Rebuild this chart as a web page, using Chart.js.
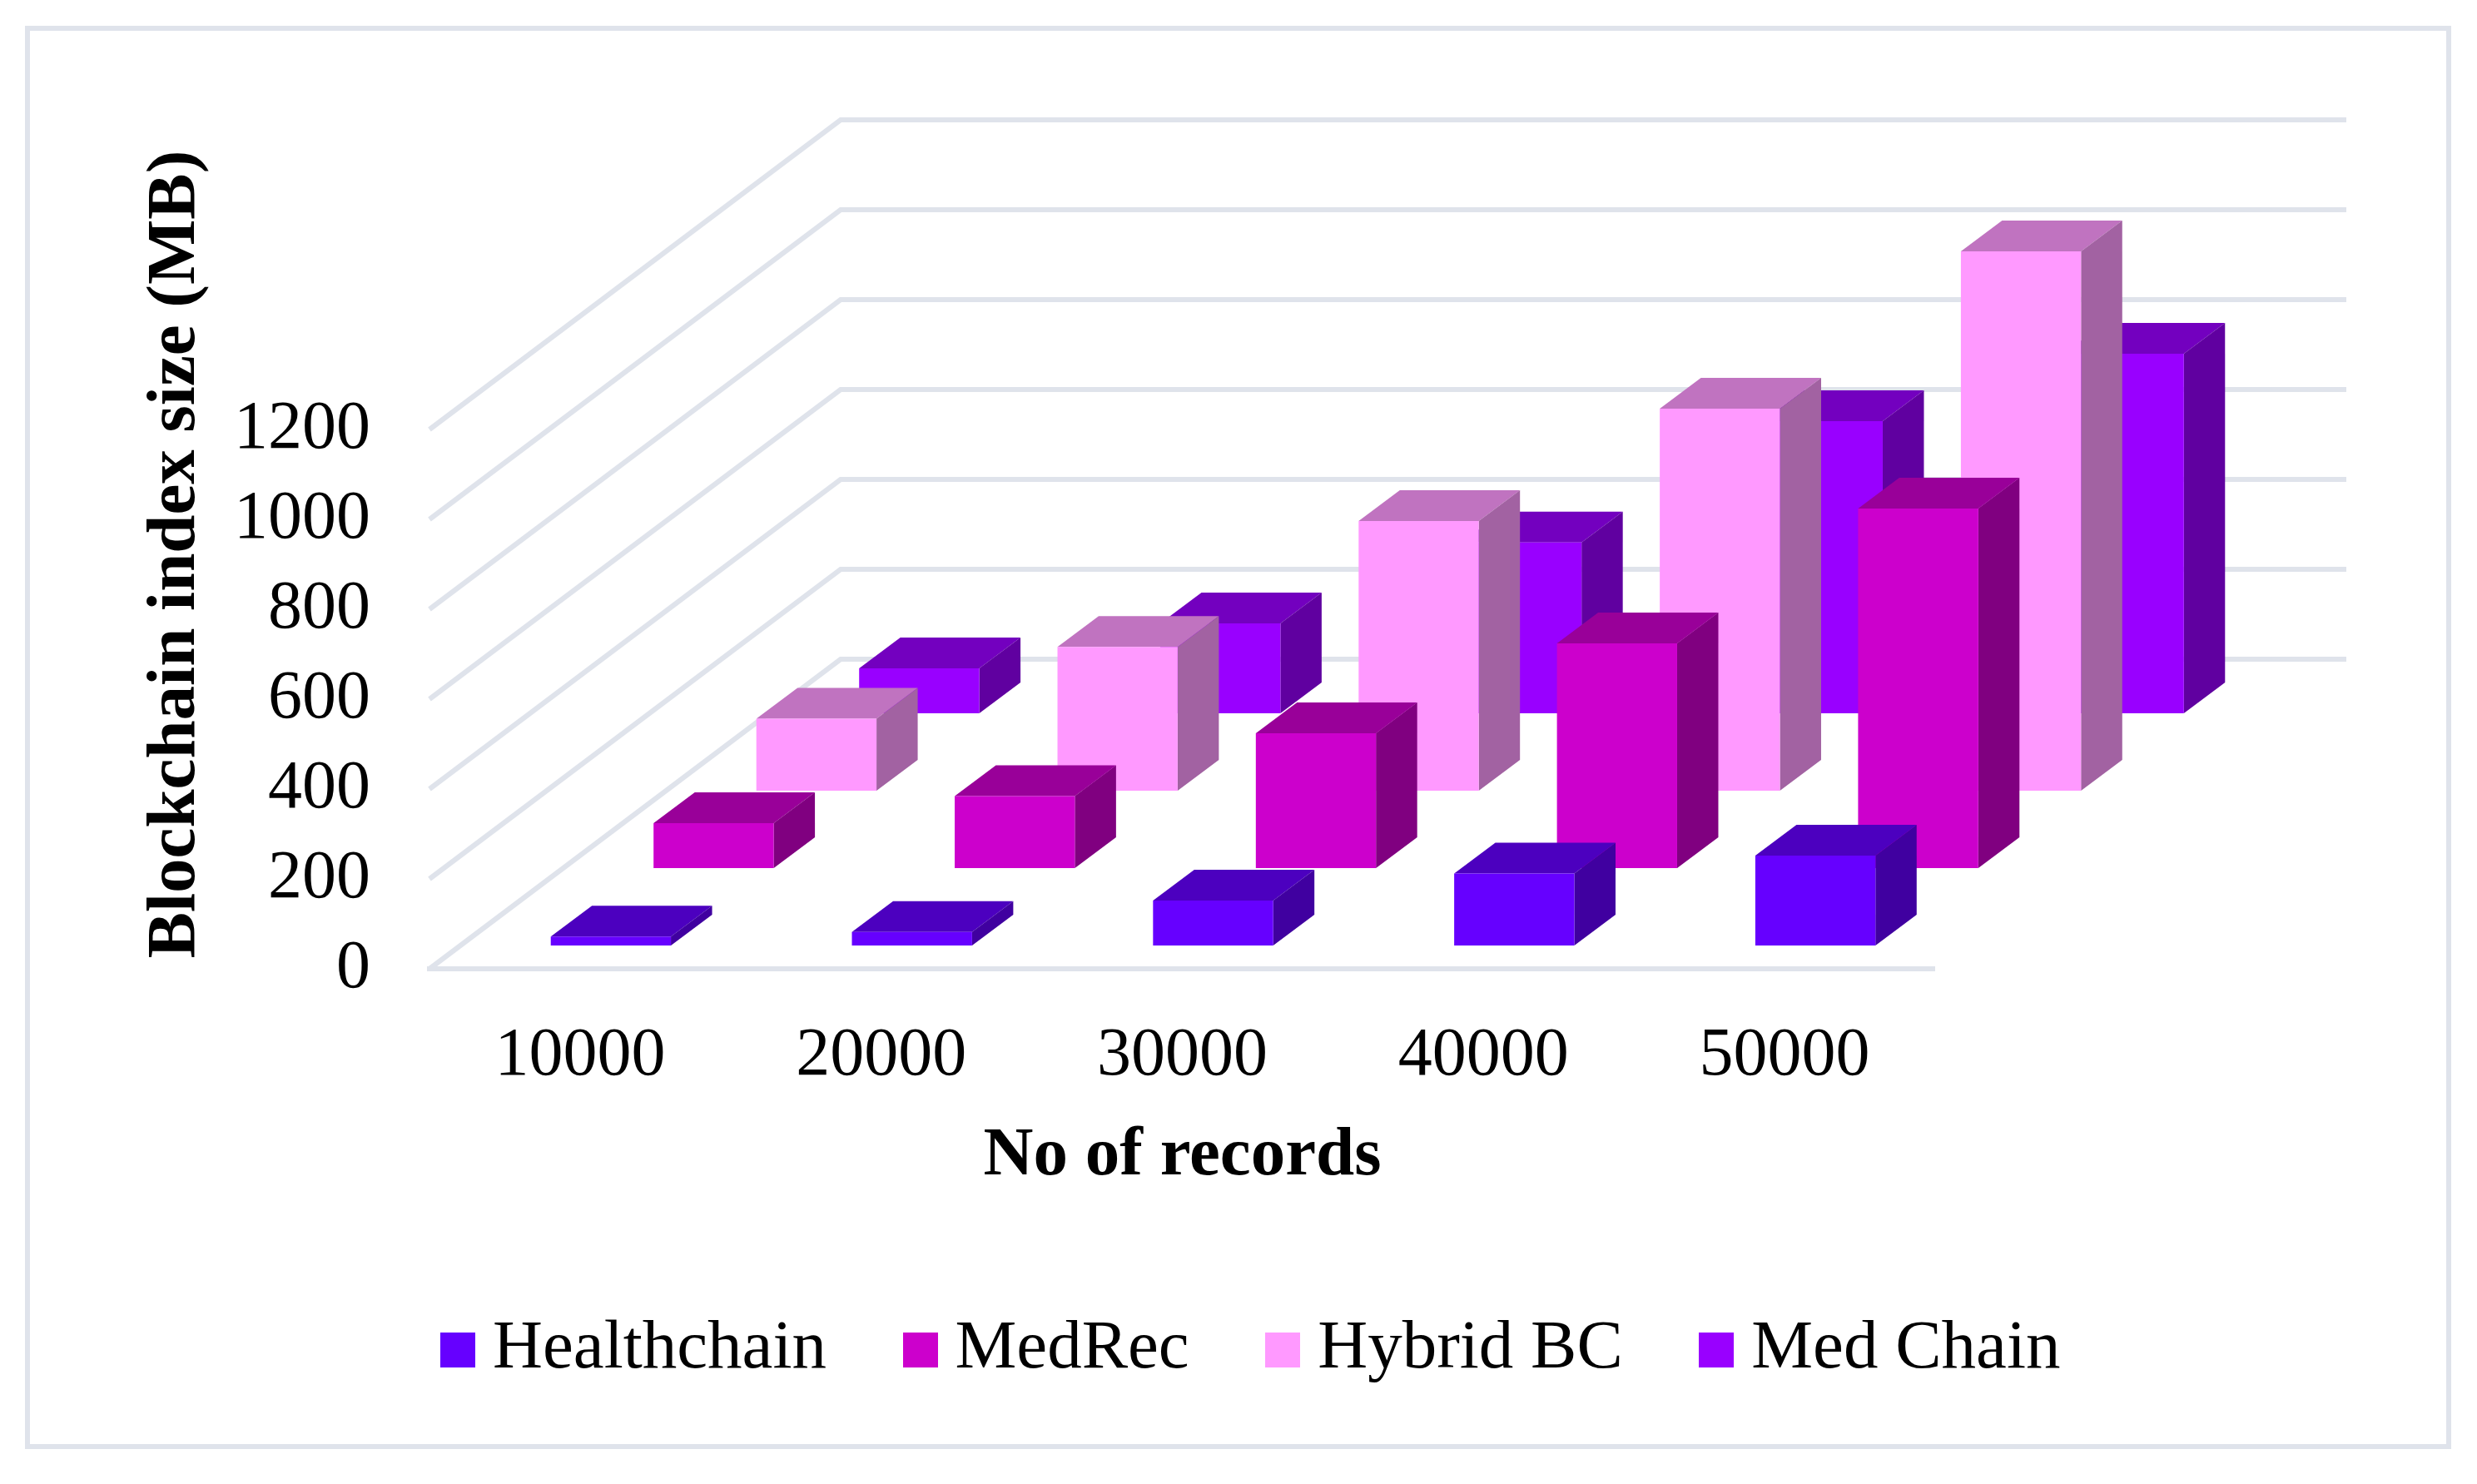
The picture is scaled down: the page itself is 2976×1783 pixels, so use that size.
<!DOCTYPE html>
<html>
<head>
<meta charset="utf-8">
<title>Blockchain index size</title>
<script src="https://cdn.jsdelivr.net/npm/chart.js@4/dist/chart.umd.min.js"></script>
<style>
  html, body { margin: 0; padding: 0; background: #fff; overflow: hidden; }
  canvas { display: block; }
</style>
</head>
<body>
<canvas id="chart" width="2976" height="1783"></canvas>
<script>
const categories = ['10000', '20000', '30000', '40000', '50000'];
const healthchain = [20, 30, 100, 160, 200];
const medRec = [100, 160, 300, 500, 800];
const hybridBC = [160, 320, 600, 850, 1200];
const medChain = [100, 200, 380, 650, 800];
const seriesNames = ['Healthchain', 'MedRec', 'Hybrid BC', 'Med Chain'];
const xTitle = 'No of records';
const yTitle = 'Blockchain index size (MB)';

const frontColors = ['#6600ff', '#cc00cc', '#ff99ff', '#9900ff'];
const topColors = ['#4c00bf', '#990099', '#c073c0', '#7300bf'];
const sideColors = ['#4000a0', '#800080', '#a262a2', '#6000a0'];

const gridColor = '#dfe3eb';
const fontFamily = '"Liberation Serif", "Times New Roman", serif';

// how far the floor runs back, and how deep one bar is
const wallDx = 494, wallDy = 372;
const slotDx = wallDx / 4, slotDy = wallDy / 4;
const barDx = 49.5, barDy = 37;

function legendSwatch(color) {
  const c = document.createElement('canvas');
  c.width = 42;
  c.height = 42;
  const g = c.getContext('2d');
  g.fillStyle = color;
  g.fillRect(0, 0, 42, 42);
  return c;
}

function line(ctx, points) {
  ctx.beginPath();
  points.forEach((p, i) => i ? ctx.lineTo(p[0], p[1]) : ctx.moveTo(p[0], p[1]));
  ctx.stroke();
}

function poly(ctx, color, points) {
  ctx.fillStyle = color;
  ctx.beginPath();
  points.forEach((p, i) => i ? ctx.lineTo(p[0], p[1]) : ctx.moveTo(p[0], p[1]));
  ctx.closePath();
  ctx.fill();
}

const depthPlugin = {
  id: 'depth',
  beforeDraw(chart) {
    const ctx = chart.ctx;
    ctx.save();
    ctx.fillStyle = '#fff';
    ctx.fillRect(0, 0, chart.width, chart.height);
    ctx.strokeStyle = gridColor;
    ctx.lineWidth = 6;
    ctx.strokeRect(33, 34, 2909, 1704);
    ctx.restore();
  },
  afterLayout(chart) {
    // legend sits off centre in the reference
    chart.legend.left += 350;
    chart.legend.right += 350;
    // y title is centred on the whole wall, not on the front axis
    const y = chart.scales.y;
    if (!y.titleMoved) {
      const drawTitle = y.drawTitle.bind(y);
      y.drawTitle = function () {
        chart.ctx.save();
        chart.ctx.translate(0, -174);
        drawTitle();
        chart.ctx.restore();
      };
      y.titleMoved = true;
    }
  },
  beforeDatasetsDraw(chart) {
    const ctx = chart.ctx;
    const y = chart.scales.y;
    const area = chart.chartArea;
    ctx.save();
    ctx.strokeStyle = gridColor;
    ctx.lineWidth = 6;
    y.ticks.forEach(t => {
      const py = y.getPixelForValue(t.value);
      line(ctx, [[area.left, py], [area.left + wallDx, py - wallDy], [area.right + wallDx, py - wallDy]]);
    });
    const y0 = y.getPixelForValue(0);
    line(ctx, [[area.left - 3, y0], [area.right, y0]]);
    ctx.restore();
  },
  beforeDatasetDraw(chart, args) {
    const ctx = chart.ctx;
    const k = args.index;
    ctx.save();
    ctx.translate((slotDx - barDx) / 2 + slotDx * k, -(slotDy - barDy) / 2 - slotDy * k);
    args.meta.data.forEach(bar => {
      const l = bar.x - bar.width / 2, r = bar.x + bar.width / 2;
      poly(ctx, topColors[k], [[l, bar.y], [l + barDx, bar.y - barDy], [r + barDx, bar.y - barDy], [r, bar.y]]);
      poly(ctx, sideColors[k], [[r, bar.y], [r + barDx, bar.y - barDy], [r + barDx, bar.base - barDy], [r, bar.base]]);
    });
  },
  afterDatasetDraw(chart) {
    chart.ctx.restore();
  }
};

const seriesValues = [healthchain, medRec, hybridBC, medChain];

new Chart(document.getElementById('chart'), {
  type: 'bar',
  plugins: [depthPlugin],
  data: {
    labels: categories,
    datasets: seriesNames.map((name, i) => ({
      label: name,
      data: seriesValues[i],
      backgroundColor: frontColors[i],
      grouped: false,
      categoryPercentage: 1,
      barPercentage: 0.399,
      clip: false
    }))
  },
  options: {
    responsive: false,
    devicePixelRatio: 1,
    animation: false,
    layout: { padding: { top: 516, right: 651, bottom: 110, left: 0 } },
    plugins: {
      tooltip: { enabled: false },
      legend: {
        position: 'bottom',
        labels: {
          color: '#000',
          font: { family: fontFamily, size: 83 },
          usePointStyle: true,
          pointStyleWidth: 1,
          boxHeight: 42,
          padding: 112,
          generateLabels(chart) {
            return Chart.defaults.plugins.legend.labels.generateLabels(chart).map((item, i) => {
              item.pointStyle = legendSwatch(frontColors[i]);
              return item;
            });
          }
        }
      }
    },
    scales: {
      x: {
        grid: { display: false },
        border: { display: false },
        ticks: { color: '#000', font: { family: fontFamily, size: 82 }, padding: 48, maxRotation: 0 },
        title: {
          display: true,
          text: xTitle,
          color: '#000',
          font: { family: fontFamily, size: 83, weight: 'bold' },
          padding: { top: 0, bottom: 29 }
        },
        afterFit(scale) { scale.height = 304; }
      },
      y: {
        min: 0,
        max: 1200,
        grid: { display: false },
        border: { display: false },
        ticks: {
          color: '#000',
          font: { family: fontFamily, size: 82 },
          stepSize: 200,
          padding: 63,
          callback: value => String(value)
        },
        title: {
          display: true,
          text: yTitle,
          color: '#000',
          font: { family: fontFamily, size: 83, weight: 'bold' },
          padding: { top: 162, bottom: 0 }
        },
        afterFit(scale) { scale.width = 516; }
      }
    }
  }
});
</script>
</body>
</html>
